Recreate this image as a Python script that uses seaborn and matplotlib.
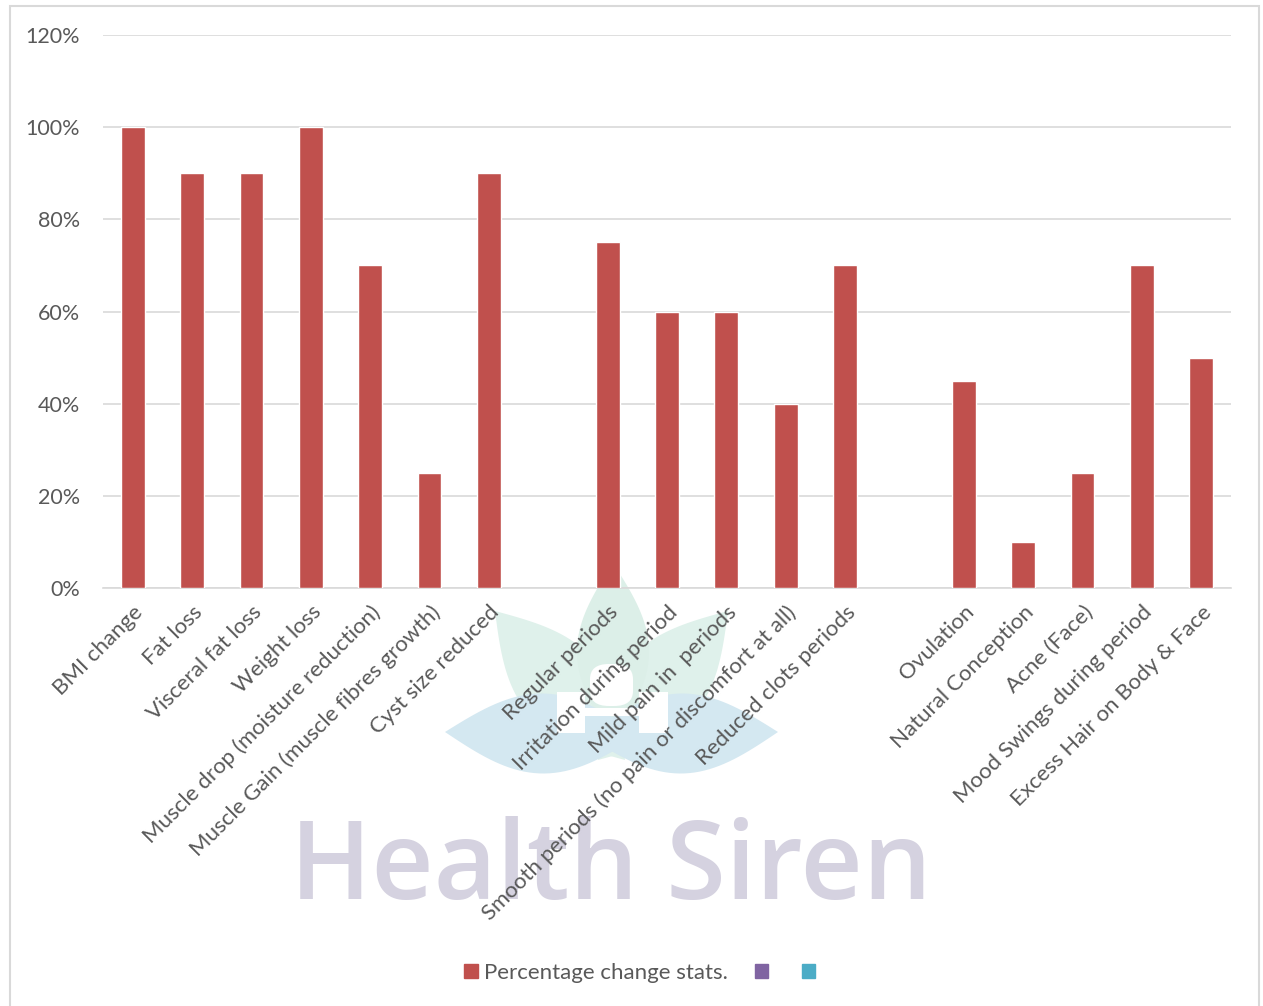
import matplotlib
matplotlib.use('Agg')
import matplotlib.pyplot as plt
import seaborn as sns
import numpy as np
import pandas as pd
from matplotlib.patches import Patch, Polygon, Rectangle, FancyBboxPatch

categories = ['BMI change', 'Fat loss', 'Visceral fat loss', 'Weight loss',
              'Muscle drop (moisture reduction)', 'Muscle Gain (muscle fibres growth)',
              'Cyst size reduced', ' ',
              'Regular periods', 'Irritation during period', 'Mild pain in  periods',
              'Smooth periods (no pain or discomfort at all)', 'Reduced clots periods', '  ',
              'Ovulation', 'Natural Conception', 'Acne (Face)', 'Mood Swings during period',
              'Excess Hair on Body & Face']
values = [1.00, 0.90, 0.90, 1.00, 0.70, 0.25, 0.90, np.nan,
          0.75, 0.60, 0.60, 0.40, 0.70, np.nan,
          0.45, 0.10, 0.25, 0.70, 0.50]
y_ticks = [0, 0.2, 0.4, 0.6, 0.8, 1.0, 1.2]
y_tick_labels = ['0%', '20%', '40%', '60%', '80%', '100%', '120%']
series_name = 'Percentage change stats.'

df = pd.DataFrame({'category': categories, 'value': values})

sns.set_style('white')
plt.rcParams['font.family'] = ['Lato', 'DejaVu Sans']
text_col = '#595959'
grid_col = '#D9D9D9'
W, H = 1263, 1006

fig = plt.figure(figsize=(W / 100, H / 100), dpi=100)
ax = fig.add_axes([103 / W, 1 - 588 / H, (1231 - 103) / W, (588 - 35) / H])
ax.set_zorder(2)
ax.set_facecolor('none')

# watermark logo (lens shaped leaves), drawn in pixel coords behind the axes
def lens(p0, p1, bulge):
    p0, p1 = np.array(p0, float), np.array(p1, float)
    d = p1 - p0
    n = np.array([-d[1], d[0]]) / np.hypot(*d)
    t = np.linspace(0, 1, 40)
    base = p0 + np.outer(t, d)
    off = np.outer(np.sin(np.pi * t) * bulge, n)
    pts = np.vstack([base + off, (base - off)[::-1]])
    return [(x / W, 1 - y / H) for x, y in pts]

leaves = [((495, 611), (625, 760), 42, '#DFF1EB'),
          ((728, 611), (598, 760), 42, '#DFF1EB'),
          ((613, 563), (613, 740), 36, '#DCEFE8'),
          ((445, 732), (640, 735), 40, '#D4E8F1'),
          ((778, 732), (585, 735), 40, '#D4E8F1')]
for p0, p1, b, c in leaves:
    fig.patches.append(Polygon(lens(p0, p1, b), closed=True, transform=fig.transFigure,
                               facecolor=c, edgecolor='none', zorder=0))
for x0, y0, w, h in [(557, 692, 28, 41), (639, 692, 29, 41), (585, 708, 54, 8)]:
    fig.patches.append(Rectangle((x0 / W, 1 - (y0 + h) / H), w / W, h / H,
                                 transform=fig.transFigure, facecolor='white',
                                 edgecolor='none', zorder=0.5))
fig.patches.append(FancyBboxPatch((590 / W, 1 - 706 / H), 43 / W, 42 / H,
                                  boxstyle='round,pad=0,rounding_size=0.015',
                                  transform=fig.transFigure, facecolor='white',
                                  edgecolor='none', zorder=0.5))
fig.text(611 / W, 1 - 870 / H, 'Health Siren', ha='center', va='center',
         fontsize=78, fontweight='semibold', color='#D5D2E0', zorder=0,
         family='Open Sans')

# outer chart border
fig.patches.append(Rectangle((10 / W, -0.01), (1259 - 10) / W, 1 - 6 / H + 0.01,
                             transform=fig.transFigure, fill=False,
                             edgecolor=grid_col, linewidth=1.5, zorder=0))

sns.barplot(data=df, x='category', y='value', order=categories, color='#C0504D',
            width=0.4, saturation=1, ax=ax, zorder=3)
ax.set_ylim(0, 1.2)
ax.set_xlim(-0.5, len(categories) - 0.5)
ax.set_yticks(y_ticks)
ax.set_yticklabels(y_tick_labels, fontsize=15.5, color=text_col)
ax.yaxis.grid(True, color=grid_col, linewidth=1.2, zorder=0)
ax.set_axisbelow(True)
for s in ['left', 'right', 'top']:
    ax.spines[s].set_visible(False)
ax.spines['bottom'].set_color(grid_col)
ax.spines['bottom'].set_linewidth(1.2)
ax.tick_params(axis='y', length=0, pad=16.5)
ax.tick_params(axis='x', length=0, pad=10)
ax.set_xticks(range(len(categories)))
ax.set_xticklabels(categories, rotation=45, ha='right', rotation_mode='anchor',
                   fontsize=16, color=text_col)
ax.set_xlabel('')
ax.set_ylabel('')

handles = [Patch(color='#C0504D'), Patch(color='#8064A2'), Patch(color='#4BACC6')]
fig.legend(handles, [series_name, '', ''], loc='center', bbox_to_anchor=(643 / W, 1 - 973 / H),
           ncol=3, frameon=False, fontsize=16, labelcolor=text_col, handlelength=0.6,
           handleheight=0.6, handletextpad=0.3, columnspacing=1.2)

fig.savefig('out.png', dpi=100)
